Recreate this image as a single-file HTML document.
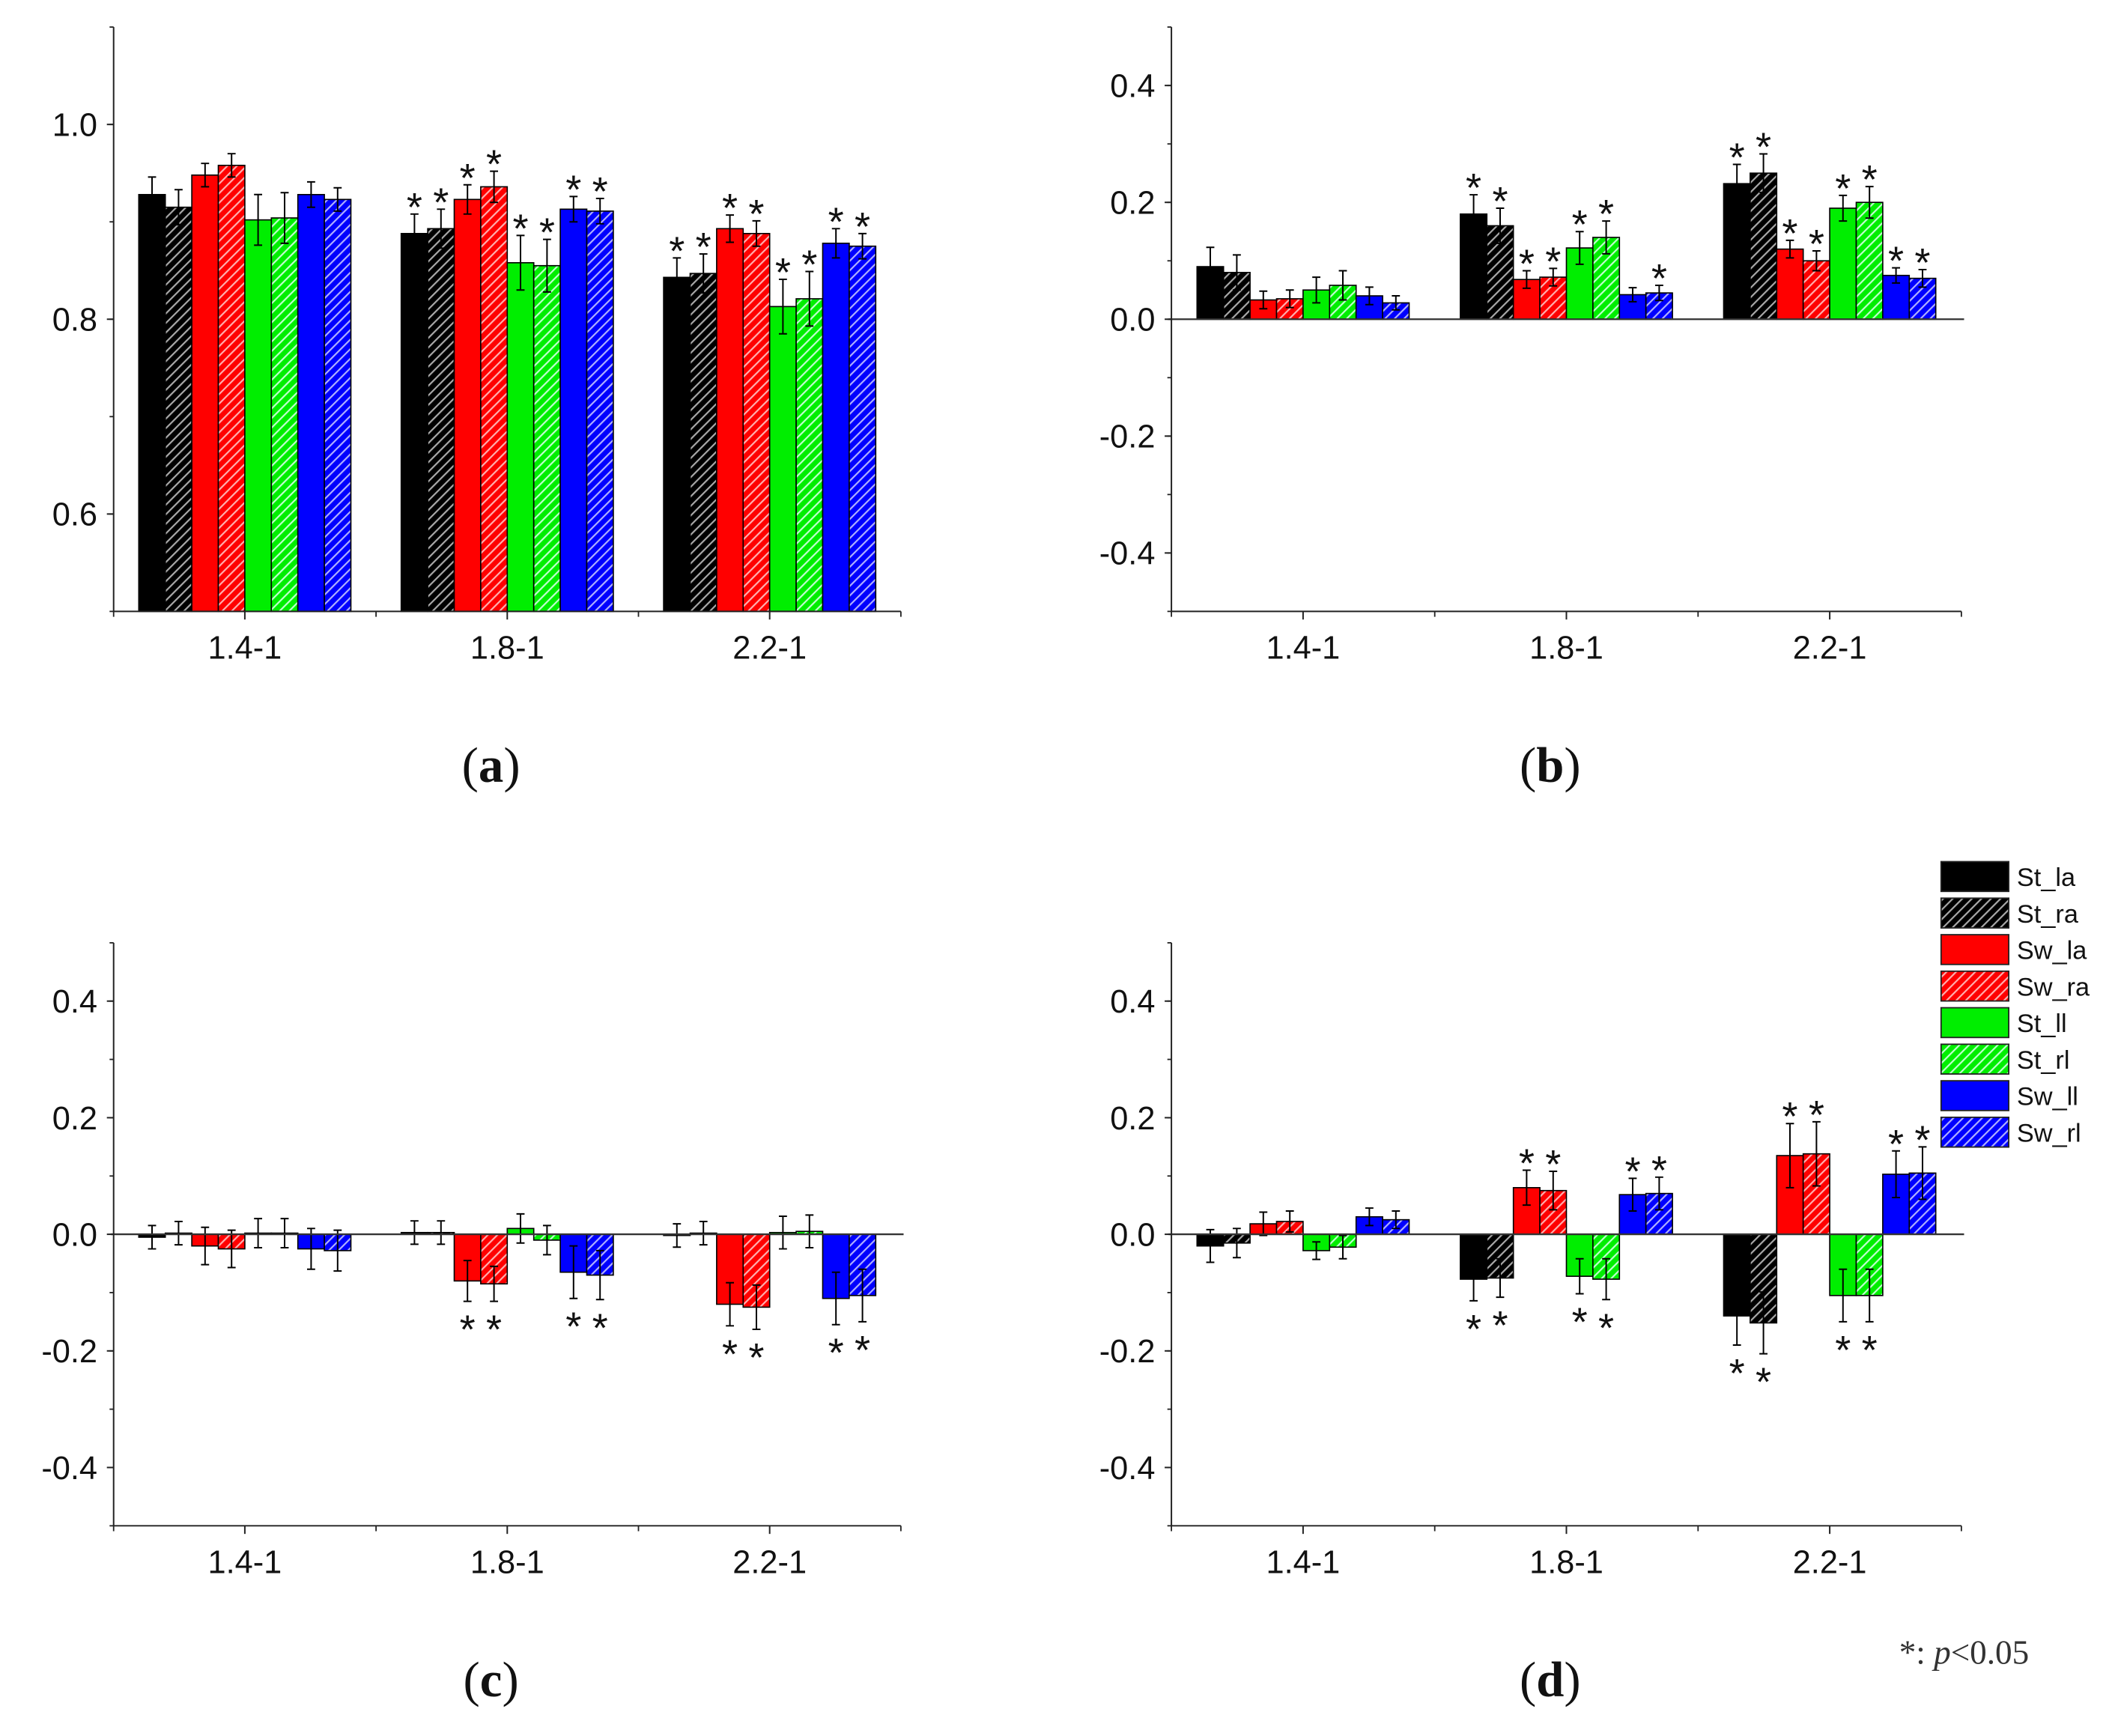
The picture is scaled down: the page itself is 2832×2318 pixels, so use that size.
<!DOCTYPE html>
<html><head><meta charset="utf-8"><style>
html,body{margin:0;padding:0;background:#fff;}
svg{display:block;}
text{font-family:"Liberation Sans",Arial,sans-serif;}
.serif{font-family:"Liberation Serif","Times New Roman",serif;}
</style></head><body>
<svg id="chart" xmlns="http://www.w3.org/2000/svg" width="2832" height="2318" viewBox="0 0 1568 1283.4">
<defs>
<pattern id="h-black" patternUnits="userSpaceOnUse" width="5" height="5" patternTransform="rotate(45)"><rect width="5" height="5" fill="#000"/><rect x="0" width="1.2" height="5" fill="#aaa"/></pattern>
<pattern id="h-red" patternUnits="userSpaceOnUse" width="5" height="5" patternTransform="rotate(45)"><rect width="5" height="5" fill="#ff0000"/><rect x="0" width="1.2" height="5" fill="#ffb0b0"/></pattern>
<pattern id="h-green" patternUnits="userSpaceOnUse" width="5" height="5" patternTransform="rotate(45)"><rect width="5" height="5" fill="#00ee00"/><rect x="0" width="1.2" height="5" fill="#c0ffd0"/></pattern>
<pattern id="h-blue" patternUnits="userSpaceOnUse" width="5" height="5" patternTransform="rotate(45)"><rect width="5" height="5" fill="#0000ff"/><rect x="0" width="1.2" height="5" fill="#b0b0ff"/></pattern>
</defs>
<g id="root"></g>
</svg>
<script>
const categories = ["1.4-1","1.8-1","2.2-1"];
const seriesNames = ["St_la","St_ra","Sw_la","Sw_ra","St_ll","St_rl","Sw_ll","Sw_rl"];
const seriesFills = ["#000","url(#h-black)","#ff0000","url(#h-red)","#00ee00","url(#h-green)","#0000ff","url(#h-blue)"];

const aVals = [[0.928,0.915,0.948,0.958,0.902,0.904,0.928,0.923],[0.888,0.893,0.923,0.936,0.858,0.855,0.913,0.911],[0.843,0.847,0.893,0.888,0.813,0.821,0.878,0.875]];
const aErr = [[0.018,0.018,0.012,0.012,0.026,0.026,0.013,0.012],[0.02,0.02,0.015,0.016,0.028,0.027,0.013,0.013],[0.02,0.02,0.014,0.013,0.028,0.028,0.015,0.013]];
const aStar = [[0,0,0,0,0,0,0,0],[1,1,1,1,1,1,1,1],[1,1,1,1,1,1,1,1]];

const bVals = [[0.09,0.08,0.033,0.035,0.05,0.058,0.04,0.028],[0.18,0.16,0.068,0.072,0.122,0.14,0.042,0.045],[0.232,0.25,0.12,0.1,0.19,0.2,0.075,0.07]];
const bErr = [[0.033,0.03,0.015,0.015,0.022,0.025,0.015,0.012],[0.033,0.03,0.015,0.015,0.028,0.028,0.012,0.013],[0.033,0.033,0.015,0.017,0.022,0.027,0.013,0.015]];
const bStar = [[0,0,0,0,0,0,0,0],[1,1,1,1,1,1,0,1],[1,1,1,1,1,1,1,1]];

const cVals = [[-0.005,0.002,-0.02,-0.025,0.002,0.002,-0.025,-0.028],[0.003,0.003,-0.08,-0.085,0.01,-0.01,-0.065,-0.07],[-0.002,0.002,-0.12,-0.125,0.003,0.005,-0.11,-0.105]];
const cErr = [[0.02,0.02,0.032,0.032,0.025,0.025,0.035,0.035],[0.02,0.02,0.035,0.03,0.025,0.025,0.045,0.042],[0.02,0.02,0.037,0.038,0.028,0.028,0.045,0.045]];
const cStar = [[0,0,0,0,0,0,0,0],[0,0,1,1,0,0,1,1],[0,0,1,1,0,0,1,1]];

const dVals = [[-0.02,-0.015,0.018,0.022,-0.028,-0.022,0.03,0.025],[-0.077,-0.075,0.08,0.075,-0.072,-0.077,0.068,0.07],[-0.14,-0.152,0.135,0.138,-0.105,-0.105,0.103,0.105]];
const dErr = [[0.028,0.025,0.02,0.018,0.015,0.02,0.015,0.015],[0.037,0.033,0.03,0.033,0.03,0.035,0.028,0.028],[0.05,0.053,0.055,0.055,0.045,0.045,0.04,0.045]];
const dStar = [[0,0,0,0,0,0,0,0],[1,1,1,1,1,1,1,1],[1,1,1,1,1,1,1,1]];

const aTicks = ["0.6","0.8","1.0"];
const sTicks = ["-0.4","-0.2","0.0","0.2","0.4"];

const NS="http://www.w3.org/2000/svg";
const root=document.getElementById('root');
function mk(tag,attrs,parent){const e=document.createElementNS(NS,tag);for(const k in attrs)e.setAttribute(k,attrs[k]);(parent||root).appendChild(e);return e;}

function panel(id,L,R,T,B,ymin,ymax,ticks,vals,errs,stars,zeroLine,label){
  const g=mk('g',{});
  
  
  const y=v=>B-(v-ymin)/(ymax-ymin)*(B-T);
  const slot=(R-L)/categories.length, bw=19.6;
  const base=zeroLine?y(0):B;
  vals.forEach((grp,ci)=>{
    const cx=L+slot*(ci+0.5);
    grp.forEach((v,si)=>{
      const x=cx-4*bw+si*bw;
      const yv=y(v);
      const r=mk('rect',{x:x,y:Math.min(yv,base),width:bw,height:Math.max(Math.abs(base-yv),0.8),fill:seriesFills[si],stroke:'#000','stroke-width':0.9},g);
      
      
      const e=errs[ci][si], xm=x+bw/2;
      const eb=mk('path',{d:`M${xm},${y(v-e)}V${y(v+e)}M${xm-3},${y(v-e)}H${xm+3}M${xm-3},${y(v+e)}H${xm+3}`,stroke:'#000','stroke-width':1.1,fill:'none'},g);
      
      
      if(stars[ci][si]){
        const up=v>=0||!zeroLine;
        const sy=up?y(v+e)+5:y(v-e)+31;
        const s=mk('text',{x:xm,y:sy,'text-anchor':'middle','font-size':30,fill:'#111'},g);
        s.textContent='*';
        
        
      }
    });
  });
  if(zeroLine){
    const z=mk('line',{x1:L-2,x2:R+2,y1:y(0),y2:y(0),stroke:'#333','stroke-width':1.3},g);
    
    
  }
  const ax=mk('path',{d:`M${L},${T}V${B}H${R}`,stroke:'#222','stroke-width':1.1,fill:'none'},g);
  
  
  ticks.forEach(t=>{
    const v=parseFloat(t), yy=y(v);
    mk('line',{x1:L-5,x2:L,y1:yy,y2:yy,stroke:'#222','stroke-width':1.1},g);
    const tx=mk('text',{x:L-12,y:yy+8.5,'text-anchor':'end','font-size':24,fill:'#111'},g);
    tx.textContent=t;
    
    
  });
  for(let v=ymin;v<=ymax+1e-9;v+=0.1){const yy=y(v);mk('line',{x1:L-3,x2:L,y1:yy,y2:yy,stroke:'#222','stroke-width':1},g);}
  categories.forEach((c,ci)=>{
    const cx=L+slot*(ci+0.5);
    mk('line',{x1:cx,x2:cx,y1:B,y2:B+6,stroke:'#222','stroke-width':1.1},g);
    mk('line',{x1:L+slot*(ci+1),x2:L+slot*(ci+1),y1:B,y2:B+4,stroke:'#222','stroke-width':1},g);
    const tx=mk('text',{x:cx,y:B+35,'text-anchor':'middle','font-size':24,fill:'#111'},g);
    tx.textContent=c;
    
    
  });
  mk('line',{x1:L,x2:L,y1:B,y2:B+4,stroke:'#222','stroke-width':1},g);
  const pl=mk('text',{x:(L+R)/2-12,y:B+126,'text-anchor':'middle','font-size':37,fill:'#111',class:'serif'},g);
  pl.innerHTML='(<tspan font-weight="bold">'+label+'</tspan>)';
  
  
}
panel('a',84,666,20,452,0.5,1.1,aTicks,aVals,aErr,aStar,false,'a');
panel('b',866,1450,20,452,-0.5,0.5,sTicks,bVals,bErr,bStar,true,'b');
panel('c',84,666,697,1128,-0.5,0.5,sTicks,cVals,cErr,cStar,true,'c');
panel('d',866,1450,697,1128,-0.5,0.5,sTicks,dVals,dErr,dStar,true,'d');

const lg=mk('g',{});


seriesNames.forEach((n,i)=>{
  const yy=637+i*27;
  const r=mk('rect',{x:1435,y:yy,width:50,height:22,fill:seriesFills[i],stroke:'#222','stroke-width':1},lg);
  
  
  const t=mk('text',{x:1491,y:yy+18,'font-size':19,fill:'#111'},lg);
  t.textContent=n;
  
  
});
const note=mk('text',{x:1500,y:1230,'text-anchor':'end','font-size':25,fill:'#333',class:'serif'});
note.innerHTML='*: <tspan font-style="italic">p</tspan>&lt;0.05';


</script>
</body></html>
